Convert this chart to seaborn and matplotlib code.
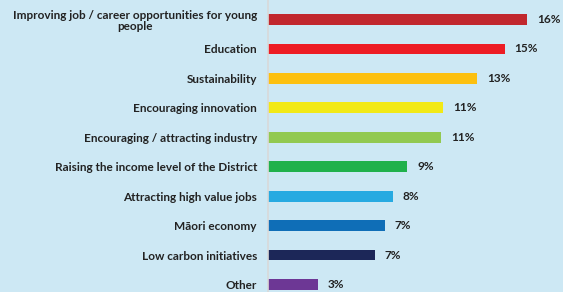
import pandas as pd
import seaborn as sns
import matplotlib.pyplot as plt

# Data
categories = [
    "Improving job / career opportunities for young\npeople",
    "Education",
    "Sustainability",
    "Encouraging innovation",
    "Encouraging / attracting industry",
    "Raising the income level of the District",
    "Attracting high value jobs",
    "Māori economy",
    "Low carbon initiatives",
    "Other",
]
values = [16.0, 14.6, 12.9, 10.8, 10.7, 8.6, 7.7, 7.2, 6.6, 3.1]
bar_colors = [
    "#c1272d", "#ed1c24", "#fcc010", "#f2e916", "#92c950",
    "#20b14b", "#27aae1", "#0f6eb7", "#1c2758", "#6d3795",
]

bg = "#cde8f4"
text_color = "#222222"

df = pd.DataFrame({"Category": categories, "Value": values})

sns.set_style("white")
plt.rcParams['font.family'] = ['Lato', 'DejaVu Sans']

fig = plt.figure(figsize=(5.63, 2.92), dpi=100, facecolor=bg)
ax = fig.add_axes([0.476, 0.0, 0.524, 1.0])
ax.set_facecolor(bg)

sns.barplot(
    data=df,
    x="Value",
    y="Category",
    hue="Category",
    palette=dict(zip(categories, bar_colors)),
    order=categories,
    width=0.37,
    saturation=1,
    linewidth=0,
    legend=False,
    ax=ax,
)

ax.set_xlim(0, 18.2)
ax.set_ylim(9.255, -0.663)

for s in ["top", "right", "bottom"]:
    ax.spines[s].set_visible(False)
ax.spines["left"].set_color("#d9d9d9")
ax.spines["left"].set_linewidth(1.2)

ax.set_xticks([])
ax.set_xlabel("")
ax.set_ylabel("")
ax.tick_params(axis="y", length=0, pad=8)
ax.set_yticks(range(len(categories)))
ax.set_yticklabels(categories, fontsize=8.5, fontweight="bold",
                   color=text_color, ha="right", multialignment="center",
                   linespacing=1.0)

# Value labels at bar ends
for i, v in enumerate(values):
    ax.text(v + 0.6, i, f"{v:.0f}%", va="center", ha="left",
            fontsize=8.5, fontweight="bold", color=text_color)

plt.savefig("out.png", dpi=100, facecolor=bg)
plt.close()
